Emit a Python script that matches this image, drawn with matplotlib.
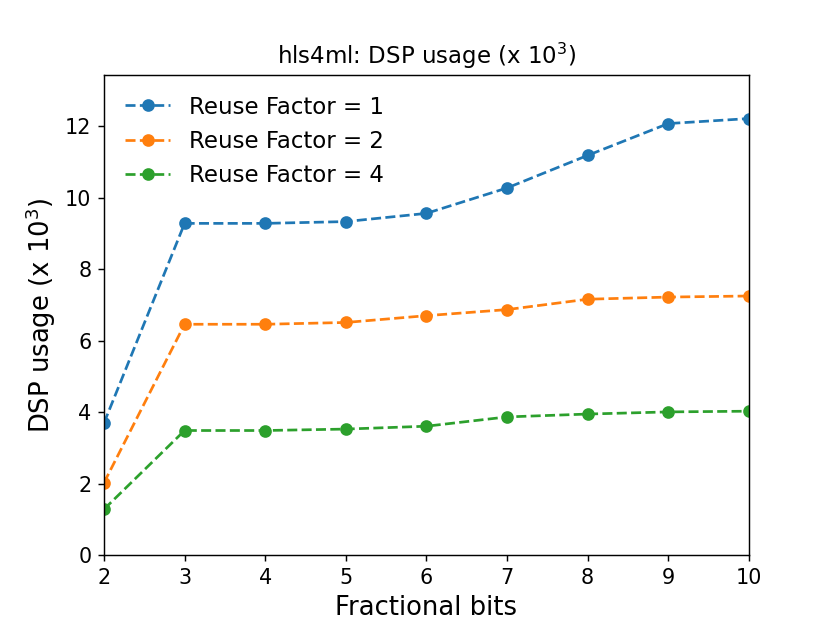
import matplotlib
matplotlib.use('Agg')
import matplotlib.pyplot as plt

# fractional bits on the x axis
frac_bits = [2, 3, 4, 5, 6, 7, 8, 9, 10]

# DSP usage (x 10^3) per reuse factor
dsp_rf1 = [3.70, 9.28, 9.28, 9.33, 9.56, 10.27, 11.18, 12.07, 12.21]
dsp_rf2 = [2.03, 6.46, 6.46, 6.51, 6.70, 6.87, 7.16, 7.22, 7.25]
dsp_rf4 = [1.29, 3.49, 3.49, 3.53, 3.61, 3.87, 3.95, 4.01, 4.03]

labels = ['Reuse Factor = 1', 'Reuse Factor = 2', 'Reuse Factor = 4']

fig = plt.figure(figsize=(6.4, 4.8), dpi=130)
plt.plot(frac_bits, dsp_rf1, 'o--', label=labels[0])
plt.plot(frac_bits, dsp_rf2, 'o--', label=labels[1])
plt.plot(frac_bits, dsp_rf4, 'o--', label=labels[2])

plt.xlim(2, 10)
plt.ylim(0, max(dsp_rf1) * 1.1)
plt.xticks(fontsize=11.5)
plt.yticks(fontsize=11.5)
plt.xlabel('Fractional bits', fontsize=14.3)
plt.ylabel('DSP usage (x $10^3$)', fontsize=14.3)
plt.title('hls4ml: DSP usage (x $10^3$)', fontsize=12.7)
plt.legend(fontsize=12.7, frameon=False, loc='upper left')

plt.savefig('out.png')
